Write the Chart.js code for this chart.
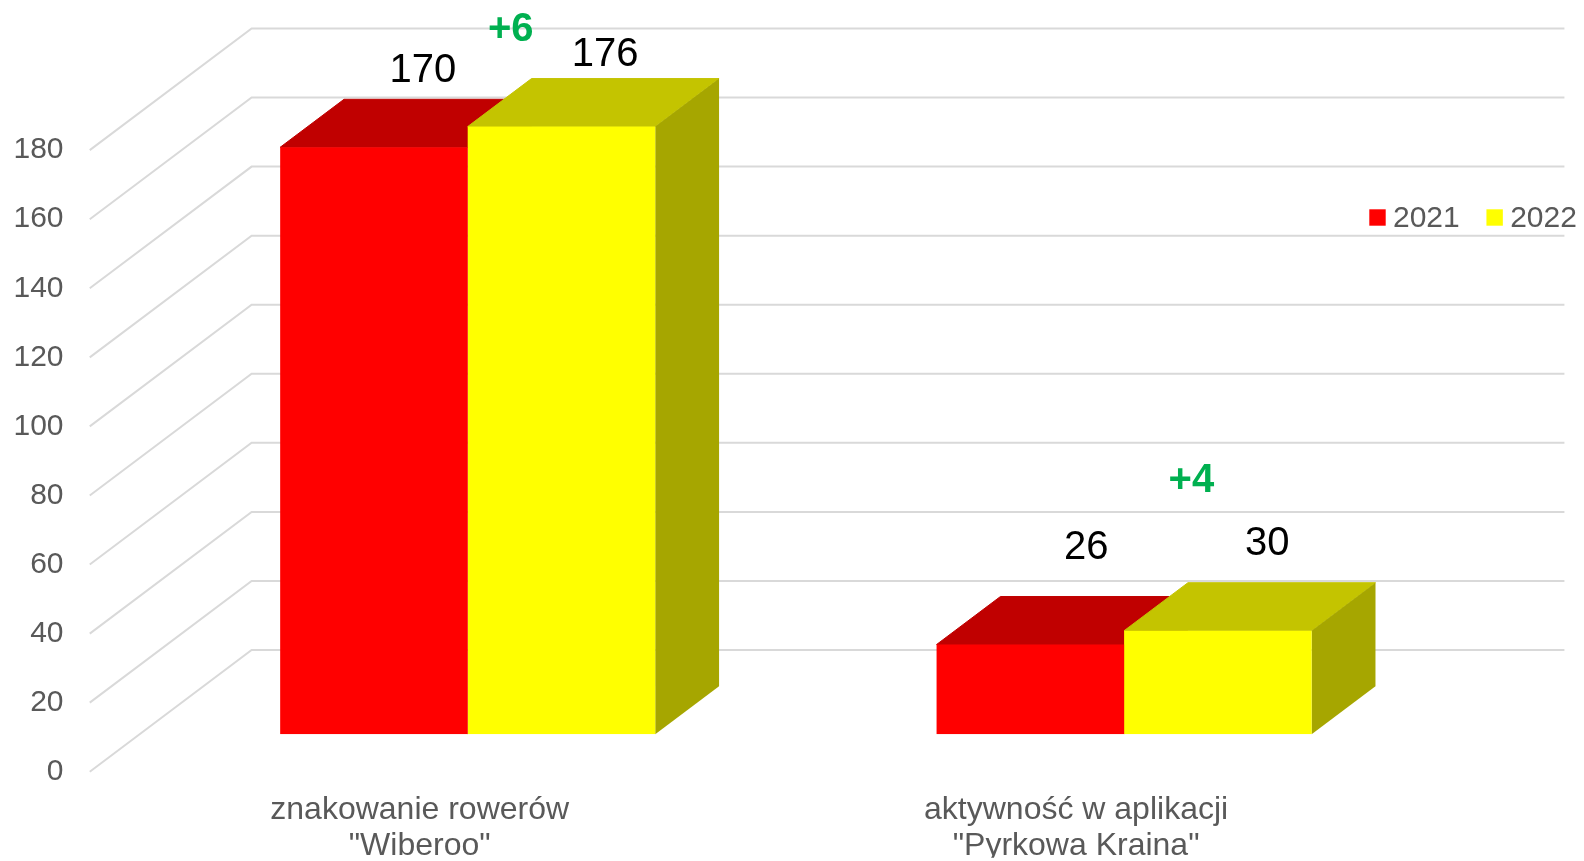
<!DOCTYPE html>
<html>
<head>
<meta charset="utf-8">
<script src="https://cdn.jsdelivr.net/npm/chart.js@4.4.0/dist/chart.umd.min.js"></script>
<style>
  html, body { margin: 0; padding: 0; background: #fff; overflow: hidden; }
  #wrap { width: 1584px; height: 861px; position: relative; }
</style>
</head>
<body>
<div id="wrap"><canvas id="bikeChart"></canvas></div>
<script>
  const categories = [['znakowanie rowerów', '"Wiberoo"'], ['aktywność w aplikacji', '"Pyrkowa Kraina"']];
  const seriesNames = ['2021', '2022'];
  const values2021 = [170, 26];
  const values2022 = [176, 30];
  const yTicks = [0, 20, 40, 60, 80, 100, 120, 140, 160, 180];

  const FONT = '"Liberation Sans", Arial, sans-serif';
  // oblique depth direction (pixels per depth unit)
  const DX = 1.33, DY = -1;
  const BAR_DEPTH = 48;
  const FLOOR_FRONT = -37.4, FLOOR_BACK = 84.3;

  // label nudges [dx, lift] per dataset / category (Excel 3D placement)
  const labelShift = [
    [[49, 65.4], [55.8, 86]],
    [[43.7, 61], [49.5, 75.7]]
  ];
  const diffShift = [[43.1, 86], [67.3, 139]];

  const threeD = {
    id: 'threeD',
    beforeDatasetsDraw(chart) {
      const { ctx, chartArea, scales: { y } } = chart;
      ctx.save();
      ctx.strokeStyle = '#d9d9d9';
      ctx.lineWidth = 2;
      yTicks.forEach(v => {
        const py = y.getPixelForValue(v);
        ctx.beginPath();
        ctx.moveTo(chartArea.left + FLOOR_FRONT * DX, py + FLOOR_FRONT * DY);
        ctx.lineTo(chartArea.left + FLOOR_BACK * DX, py + FLOOR_BACK * DY);
        ctx.lineTo(chartArea.right + FLOOR_BACK * DX, py + FLOOR_BACK * DY);
        ctx.stroke();
      });
      // top and side faces, series in order so later ones overlap earlier ones
      const ox = BAR_DEPTH * DX, oy = BAR_DEPTH * DY;
      ctx.lineWidth = 1;
      ctx.lineJoin = 'miter';
      chart.data.datasets.forEach((ds, di) => {
        chart.getDatasetMeta(di).data.forEach(bar => {
          const l = bar.x - bar.width / 2, r = bar.x + bar.width / 2;
          const t = bar.y, b = bar.base;
          ctx.fillStyle = ctx.strokeStyle = ds.topColor;
          ctx.beginPath();
          ctx.moveTo(l, t); ctx.lineTo(r, t);
          ctx.lineTo(r + ox, t + oy); ctx.lineTo(l + ox, t + oy);
          ctx.closePath(); ctx.fill(); ctx.stroke();
          ctx.fillStyle = ctx.strokeStyle = ds.sideColor;
          ctx.beginPath();
          ctx.moveTo(r, t); ctx.lineTo(r + ox, t + oy);
          ctx.lineTo(r + ox, b + oy); ctx.lineTo(r, b);
          ctx.closePath(); ctx.fill();
        });
      });
      ctx.restore();
    },
    afterDatasetsDraw(chart) {
      const { ctx, scales: { x } } = chart;
      ctx.save();
      ctx.textAlign = 'center';
      ctx.textBaseline = 'alphabetic';
      ctx.fillStyle = '#000';
      ctx.font = '40px ' + FONT;
      chart.data.datasets.forEach((ds, di) => {
        chart.getDatasetMeta(di).data.forEach((bar, i) => {
          const [sx, lift] = labelShift[di][i];
          ctx.fillText(String(ds.data[i]), bar.x + sx, bar.y - lift);
        });
      });
      // differences
      ctx.font = 'bold 40px ' + FONT;
      ctx.fillStyle = '#00b050';
      const yellow = chart.getDatasetMeta(1).data;
      values2022.forEach((v, i) => {
        const d = v - values2021[i];
        const [sx, lift] = diffShift[i];
        ctx.fillText((d >= 0 ? '+' : '') + d, x.getPixelForValue(i) + sx, yellow[i].y - lift);
      });
      // legend
      ctx.font = '30px ' + FONT;
      ctx.textAlign = 'left';
      let lx = 1369.3;
      chart.data.datasets.forEach(ds => {
        ctx.fillStyle = ds.backgroundColor;
        ctx.fillRect(lx, 209.3, 16.4, 16.4);
        ctx.fillStyle = '#595959';
        ctx.fillText(ds.label, lx + 23.7, 226.7);
        lx += ctx.measureText(ds.label).width + 50.4;
      });
      ctx.restore();
    }
  };

  new Chart(document.getElementById('bikeChart'), {
    type: 'bar',
    data: {
      labels: categories,
      datasets: [
        {
          label: seriesNames[0],
          data: values2021,
          backgroundColor: '#ff0000',
          topColor: '#c00000',
          sideColor: '#a00000'
        },
        {
          label: seriesNames[1],
          data: values2022,
          backgroundColor: '#ffff00',
          topColor: '#c4c400',
          sideColor: '#a6a600'
        }
      ]
    },
    options: {
      responsive: true,
      maintainAspectRatio: false,
      animation: false,
      layout: { padding: { left: 13.5, top: 43.7, right: 131.7, bottom: 3.3 } },
      datasets: { bar: { barPercentage: 1, categoryPercentage: 0.5714, borderWidth: 0 } },
      scales: {
        x: {
          grid: { display: false, drawTicks: false },
          border: { display: false },
          ticks: {
            color: '#595959',
            font: { family: FONT, size: 32, lineHeight: 1.106 },
            labelOffset: -48,
            padding: 58.5,
            maxRotation: 0,
            autoSkip: false
          },
          afterFit(s) {
            s.height = 123.4;
            s.paddingLeft = 0;
            s.paddingRight = 0;
          }
        },
        y: {
          min: 0,
          max: 200,
          grid: { display: false, drawTicks: false },
          border: { display: false },
          ticks: {
            stepSize: 20,
            color: '#595959',
            font: { family: FONT, size: 30 },
            padding: 76,
            labelOffset: 37.4,
            callback: v => (yTicks.includes(v) ? v : '')
          },
          afterFit(s) {
            s.width = 126;
            s.paddingTop = 0;
            s.paddingBottom = 0;
          }
        }
      },
      plugins: {
        legend: { display: false },
        tooltip: { enabled: false }
      }
    },
    plugins: [threeD]
  });
</script>
</body>
</html>
